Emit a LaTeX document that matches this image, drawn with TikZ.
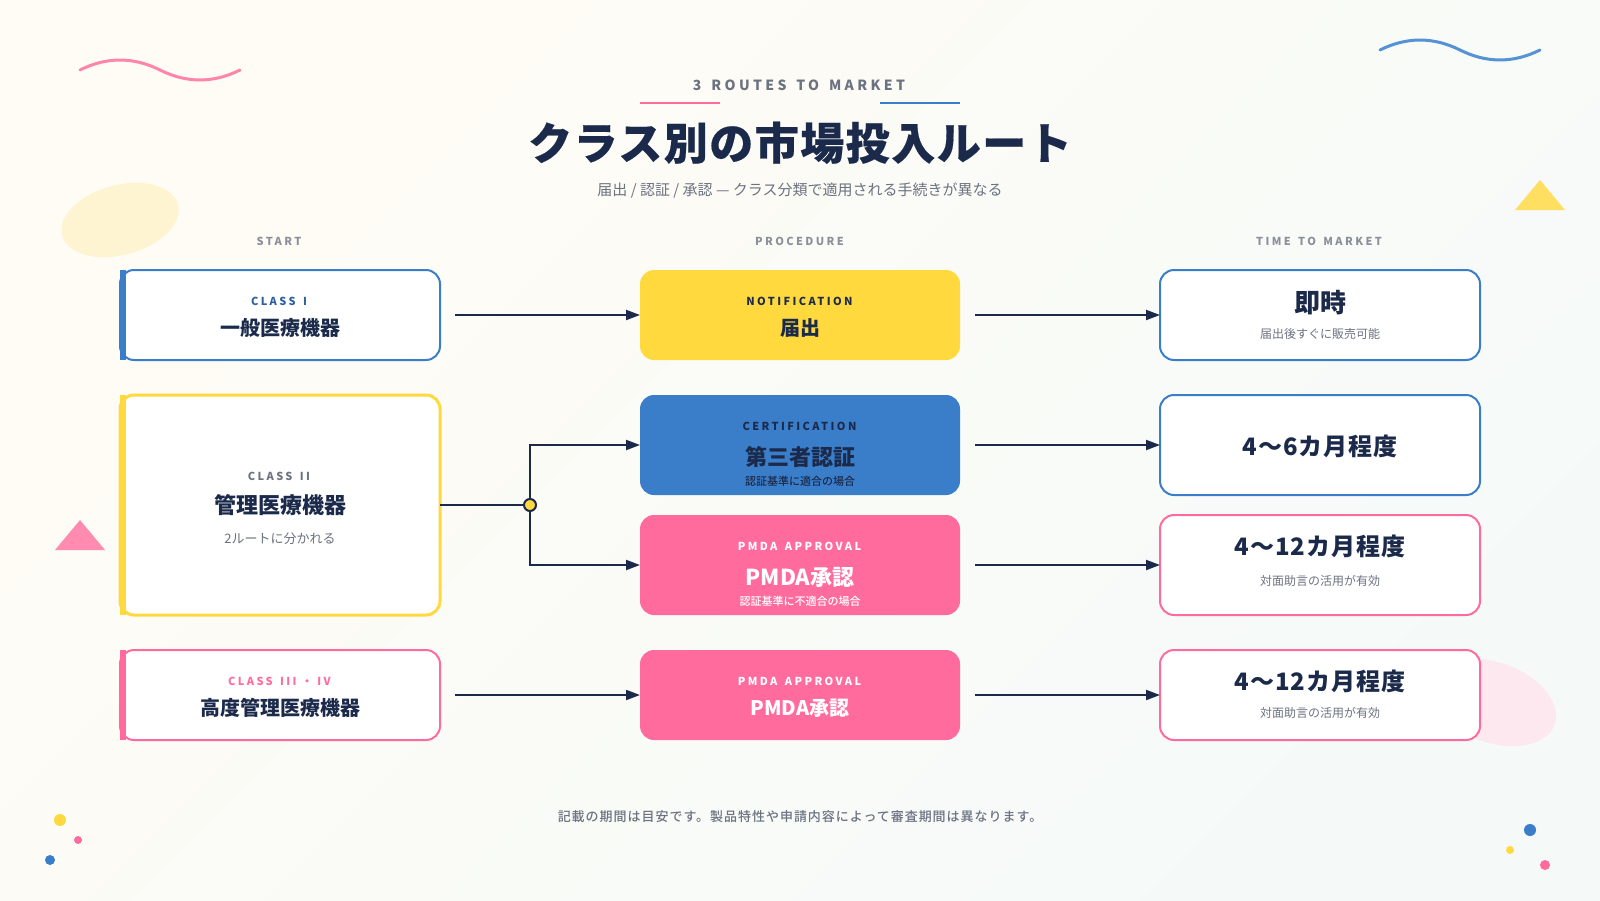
\documentclass[tikz,border=0pt]{standalone}
\usepackage{fontspec}
\setmainfont{Noto Sans CJK JP}
\newfontfamily\medf{Noto Sans CJK JP Medium}
\newfontfamily\blackf{Noto Sans CJK JP Black}
\usetikzlibrary{arrows.meta,calc}
\definecolor{navy}{HTML}{1B2A4A}
\definecolor{bluec}{HTML}{3A7DC9}
\definecolor{pinkc}{HTML}{FF6B9D}
\definecolor{yelc}{HTML}{FFD93D}
\definecolor{grayc}{HTML}{6B7280}
\definecolor{hdrc}{HTML}{8A8F9A}
\definecolor{classb}{HTML}{2C5F9E}
\definecolor{bgtop}{HTML}{FFFCF5}
\definecolor{bgbot}{HTML}{F5FAF9}
\definecolor{blobyel}{HTML}{FFF4D1}
\definecolor{blobpink}{HTML}{FDE8EF}
\definecolor{wavepink}{HTML}{FF85AD}
\definecolor{waveblue}{HTML}{5592D6}
\definecolor{triyel}{HTML}{FFDF61}
\definecolor{tripink}{HTML}{FF8BB0}
\newcommand{\fs}[2]{\fontsize{#1pt}{#1pt}\selectfont\addfontfeature{LetterSpace=#2}}
\newcommand{\wsa}{\hspace{2.5pt}}
\newcommand{\wsb}{\hspace{3.3pt}}
\tikzset{
  x=1pt,y=-1pt,
  cardbox/.style={rectangle,rounded corners=14pt,minimum width=320pt,outer sep=0pt,inner sep=0pt,fill=white,line width=2pt},
  procbox/.style={rectangle,rounded corners=14pt,minimum width=320pt,outer sep=0pt,inner sep=0pt},
  lbl/.style={inner sep=0pt,outer sep=0pt,anchor=base},
  conn/.style={navy,line width=2pt,-{Triangle[length=14pt,width=10pt]}},
  plainconn/.style={navy,line width=2pt},
  eyebrow/.style={lbl,font=\bfseries\fs{11}{22}},
  heading/.style={lbl,text=hdrc,font=\bfseries\fs{11}{22}},
  subtxt/.style={lbl,text=grayc,font=\fs{12}{0}},
  wave/.style={line width=3pt,line cap=round},
  decodot/.style={circle,inner sep=0pt,outer sep=0pt}
}
\begin{document}
\begin{tikzpicture}
\useasboundingbox (0,0) rectangle (1600,900);
\shade[shading=axis,top color=bgtop,bottom color=bgbot,shading angle=45] (0,0) rectangle (1600,900);
% decorations
\fill[color=blobyel,rotate around={15:(120,220)}] (120,220) ellipse [x radius=60pt,y radius=35pt];
\fill[color=blobpink,rotate around={-20:(1493.5,702.5)}] (1493.5,702.5) ellipse [x radius=65pt,y radius=40pt];
\draw[wave,color=wavepink] (80,70) .. controls (106.7,56.7) and (133.3,56.7) .. (160,70) .. controls (186.7,83.3) and (213.3,83.3) .. (240,70);
\draw[wave,color=waveblue] (1380,50) .. controls (1406.7,36.7) and (1433.3,36.7) .. (1460,50) .. controls (1486.7,63.3) and (1513.3,63.3) .. (1540,50);
\fill[color=triyel] (1540,180) -- (1565,210) -- (1515,210) -- cycle;
\fill[color=tripink] (80,520) -- (105,550) -- (55,550) -- cycle;
\node[decodot,fill=yelc,minimum size=12pt] (d1) at (60,820) {};
\node[decodot,fill=pinkc,minimum size=8pt] (d2) at (78,840) {};
\node[decodot,fill=bluec,minimum size=10pt] (d3) at (50,860) {};
\node[decodot,fill=bluec,minimum size=12pt] (d4) at (1530,830) {};
\node[decodot,fill=yelc,minimum size=8pt] (d5) at (1510,850) {};
\node[decodot,fill=pinkc,minimum size=10pt] (d6) at (1545,865) {};
% header
\node[lbl,text=grayc,font=\bfseries\fs{14}{24}] (eyebrowt) at (799,90.5) {3\wsb{} ROUTES\wsb{} TO\wsb{} MARKET};
\fill[pinkc] (640,101.5) rectangle (720,104);
\fill[bluec] (880,101.5) rectangle (960,104);
\node[lbl,text=navy,font=\blackf\fs{44}{3.4}\addfontfeature{FakeBold=0.4}] (title) at (800,159.5) {クラス別の市場投入ルート};
\node[lbl,text=grayc,font=\fs{15}{0}] (subt) at (800,195) {届出 / 認証 / 承認 — クラス分類で適用される手続きが異なる};
\node[heading] (h1) at (279,245) {START};
\node[heading] (h2) at (799.5,245) {PROCEDURE};
\node[heading] (h3) at (1319,245) {TIME\wsa{} TO\wsa{} MARKET};
% column 1
\node[cardbox,draw=bluec,minimum height=90pt] (c1) at (280,315) {};
\fill[bluec] (120,270) rectangle (126,360);
\node[cardbox,draw=yelc,line width=3pt,minimum height=220pt] (c2) at (280,505) {};
\fill[yelc] (120,395) rectangle (126,615);
\node[cardbox,draw=pinkc,minimum height=90pt] (c3) at (280,695) {};
\fill[pinkc] (120,650) rectangle (126,740);
\node[eyebrow,text=classb] (c1a) at (279,305) {CLASS\wsa{} I};
\node[lbl,text=navy,font=\bfseries\fs{20}{0}] (c1b) at (280,335) {一般医療機器};
\node[eyebrow,text=grayc] (c2a) at (279,480.5) {CLASS\wsa{} II};
\node[lbl,text=navy,font=\bfseries\fs{22}{0}] (c2b) at (280,513) {管理医療機器};
\node[lbl,text=grayc,font=\fs{13}{0}] (c2c) at (280,543) {2ルートに分かれる};
\node[eyebrow,text=pinkc] (c3a) at (279.5,685) {CLASS\wsa{} III ・ IV};
\node[lbl,text=navy,font=\bfseries\fs{20}{0}] (c3b) at (280,715) {高度管理医療機器};
% column 2
\node[procbox,fill=yelc,minimum height=90pt] (p1) at (800,315) {};
\node[procbox,fill=bluec,minimum height=100pt] (p2) at (800,445) {};
\node[procbox,fill=pinkc,minimum height=100pt] (p3) at (800,565) {};
\node[procbox,fill=pinkc,minimum height=90pt] (p4) at (800,695) {};
\node[eyebrow,text=navy] (p1a) at (799.5,305) {NOTIFICATION};
\node[lbl,text=navy,font=\bfseries\fs{20}{0}] (p1b) at (800,335) {届出};
\node[eyebrow,text=navy] (p2a) at (799.5,430) {CERTIFICATION};
\node[lbl,text=navy,font=\bfseries\fs{22}{0}] (p2b) at (800,465) {第三者認証};
\node[lbl,text=navy,font=\medf\fs{11}{0}] (p2c) at (800,485) {認証基準に適合の場合};
\node[eyebrow,text=white] (p3a) at (799.5,550) {PMDA\wsa{} APPROVAL};
\node[lbl,text=white,font=\bfseries\fs{22}{0}] (p3b) at (800,585) {PMDA承認};
\node[lbl,text=white,font=\medf\fs{11}{0}] (p3c) at (800,605) {認証基準に不適合の場合};
\node[eyebrow,text=white] (p4a) at (799.5,685) {PMDA\wsa{} APPROVAL};
\node[lbl,text=white,font=\bfseries\fs{20}{0}] (p4b) at (800,715) {PMDA承認};
% column 3
\node[cardbox,draw=bluec,minimum height=90pt] (t1) at (1320,315) {};
\node[cardbox,draw=bluec,minimum height=100pt] (t2) at (1320,445) {};
\node[cardbox,draw=pinkc,minimum height=100pt] (t3) at (1320,565) {};
\node[cardbox,draw=pinkc,minimum height=90pt] (t4) at (1320,695) {};
\node[lbl,text=navy,font=\bfseries\fs{26}{0}] (t1a) at (1320,312) {即時};
\node[subtxt] (t1b) at (1320,338) {届出後すぐに販売可能};
\node[lbl,text=navy,font=\bfseries\fs{24}{4}] (t2a) at (1320,455) {4〜6カ月程度};
\node[lbl,text=navy,font=\bfseries\fs{24}{4}] (t3a) at (1320,555) {4〜12カ月程度};
\node[subtxt] (t3b) at (1320,585) {対面助言の活用が有効};
\node[lbl,text=navy,font=\bfseries\fs{24}{4}] (t4a) at (1320,690) {4〜12カ月程度};
\node[subtxt] (t4b) at (1320,717) {対面助言の活用が有効};
% connectors
\coordinate (jc) at (530,505);
\draw[conn] ([xshift=15pt]c1.east) -- (p1.west);
\draw[conn] ([xshift=15pt]p1.east) -- (t1.west);
\draw[conn] (jc) |- (p2.west);
\draw[conn] (jc) |- (p3.west);
\draw[plainconn] (c2.east) -- (jc);
\node[circle,draw=navy,fill=yelc,line width=2pt,minimum size=12pt,inner sep=0pt,outer sep=0pt] (j) at (jc) {};
\draw[conn] ([xshift=15pt]p2.east) -- (t2.west);
\draw[conn] ([xshift=15pt]p3.east) -- (t3.west);
\draw[conn] ([xshift=15pt]c3.east) -- (p4.west);
\draw[conn] ([xshift=15pt]p4.east) -- (t4.west);
% footer
\node[lbl,text=grayc,font=\medf\fs{13}{7.5}] (foot) at (800,821) {記載の期間は目安です。製品特性や申請内容によって審査期間は異なります。};
\end{tikzpicture}
\end{document}
